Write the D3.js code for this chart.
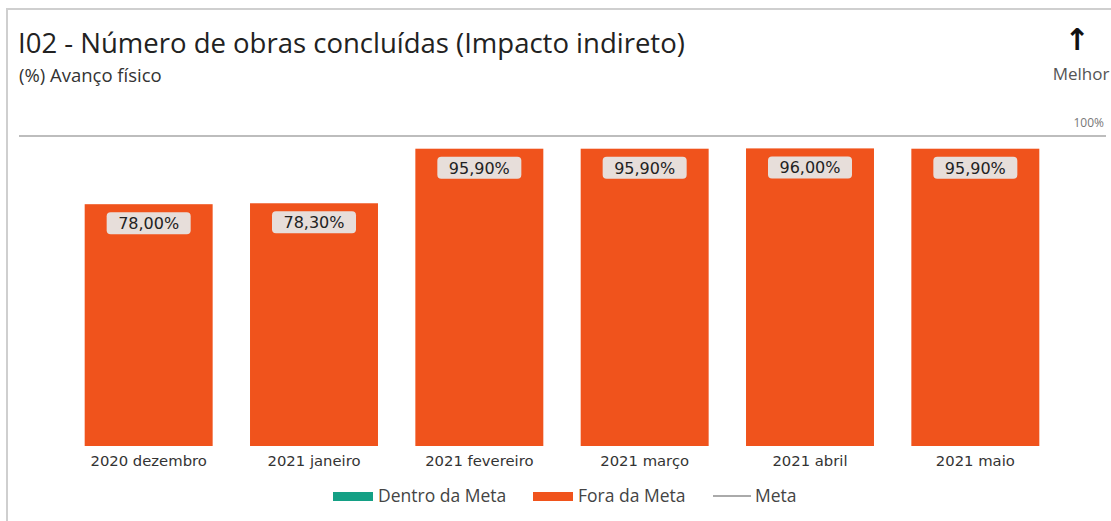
<!DOCTYPE html>
<html>
<head>
<meta charset="utf-8">
<script src="https://cdn.jsdelivr.net/npm/d3@7/dist/d3.min.js"></script>
<style>
  html, body { margin: 0; padding: 0; background: #fff; }
  svg { display: block; }
</style>
</head>
<body>
<div id="chart"></div>
<script>
(function(){
'use strict';

var categories = ['2020 dezembro', '2021 janeiro', '2021 fevereiro', '2021 março', '2021 abril', '2021 maio'];
var values = [78.0, 78.3, 95.9, 95.9, 96.0, 95.9];
var metaValue = 100;
var legendItems = [
    {label: 'Dentro da Meta', type: 'rect', color: '#14a085'},
    {label: 'Fora da Meta', type: 'rect', color: '#f0531c'},
    {label: 'Meta', type: 'line', color: '#aaaaaa'}
];

var width = 1111, height = 521;
var uiFont = '"Open Sans", "Noto Sans", sans-serif';
var dataFont = '"DejaVu Sans", Verdana, sans-serif';

var svg = d3.select('#chart').append('svg')
    .attr('width', width)
    .attr('height', height);

// card frame
svg.append('rect')
    .attr('x', 7).attr('y', 9)
    .attr('width', width + 20).attr('height', height + 20)
    .attr('fill', '#fff')
    .attr('stroke', '#cfcfcf')
    .attr('stroke-width', 2);

svg.append('text')
    .attr('x', 18).attr('y', 53)
    .attr('font-family', uiFont)
    .attr('font-size', 27.5)
    .attr('fill', '#222')
    .text('I02 - Número de obras concluídas (Impacto indireto)');

svg.append('text')
    .attr('x', 19).attr('y', 82)
    .attr('font-family', uiFont)
    .attr('font-size', 18.5)
    .attr('fill', '#333')
    .text('(%) Avanço físico');

svg.append('text')
    .attr('x', 1077).attr('y', 50)
    .attr('text-anchor', 'middle')
    .attr('font-family', '"DejaVu Sans", sans-serif')
    .attr('font-size', 30)
    .attr('font-weight', 'bold')
    .attr('fill', '#111')
    .text('↑');

svg.append('text')
    .attr('x', 1081).attr('y', 80)
    .attr('text-anchor', 'middle')
    .attr('font-family', uiFont)
    .attr('font-size', 17)
    .attr('font-weight', 500)
    .attr('fill', '#555')
    .text('Melhor');

var y = d3.scaleLinear().domain([0, 100]).range([446, 136]);
var x = d3.scaleBand().domain(categories).range([66, 1058])
    .paddingInner(0.226).paddingOuter(0.113);

// meta line
svg.append('line')
    .attr('x1', 19).attr('x2', 1106)
    .attr('y1', y(metaValue)).attr('y2', y(metaValue))
    .attr('stroke', '#bdbdbd')
    .attr('stroke-width', 2);

svg.append('text')
    .attr('x', 1104).attr('y', y(metaValue) - 9)
    .attr('text-anchor', 'end')
    .attr('font-family', uiFont)
    .attr('font-size', 12)
    .attr('fill', '#777')
    .text(metaValue + '%');

var fmt = function(v) { return d3.format('.2f')(v).replace('.', ',') + '%'; };

var bars = svg.selectAll('g.bar').data(values).enter().append('g')
    .attr('class', 'bar')
    .attr('transform', function(d, i) { return 'translate(' + x(categories[i]) + ',0)'; });

bars.append('rect')
    .attr('x', 0)
    .attr('y', function(d) { return y(d); })
    .attr('width', x.bandwidth())
    .attr('height', function(d) { return y(0) - y(d); })
    .attr('fill', legendItems[1].color);

bars.append('rect')
    .attr('x', x.bandwidth() / 2 - 42)
    .attr('y', function(d) { return y(d) + 8; })
    .attr('width', 84)
    .attr('height', 22)
    .attr('rx', 4)
    .attr('fill', '#e7deda');

bars.append('text')
    .attr('x', x.bandwidth() / 2)
    .attr('y', function(d) { return y(d) + 25; })
    .attr('text-anchor', 'middle')
    .attr('font-family', dataFont)
    .attr('font-size', 16)
    .attr('fill', '#222')
    .text(fmt);

var xAxis = svg.append('g')
    .attr('transform', 'translate(0,' + y(0) + ')')
    .call(d3.axisBottom(x).tickSize(0).tickPadding(9));
xAxis.select('.domain').remove();
xAxis.selectAll('text')
    .attr('font-family', dataFont)
    .attr('font-size', 14.8)
    .attr('fill', '#333');

// legend
var legendX = [333, 533, 713];
var legend = svg.selectAll('g.legend').data(legendItems).enter().append('g')
    .attr('class', 'legend')
    .attr('transform', function(d, i) { return 'translate(' + legendX[i] + ',496)'; });

legend.each(function(d) {
    var g = d3.select(this);
    if (d.type === 'rect') {
        g.append('rect').attr('x', 0).attr('y', -4).attr('width', 40).attr('height', 9).attr('fill', d.color);
    } else {
        g.append('line').attr('x1', 0).attr('x2', 38).attr('y1', 0).attr('y2', 0)
            .attr('stroke', d.color).attr('stroke-width', 2);
    }
});

legend.append('text')
    .attr('x', function(d) { return d.type === 'rect' ? 45 : 42; })
    .attr('y', 6)
    .attr('font-family', uiFont)
    .attr('font-size', 17.5)
    .attr('fill', '#444')
    .text(function(d) { return d.label; });

})();
</script>
</body>
</html>
